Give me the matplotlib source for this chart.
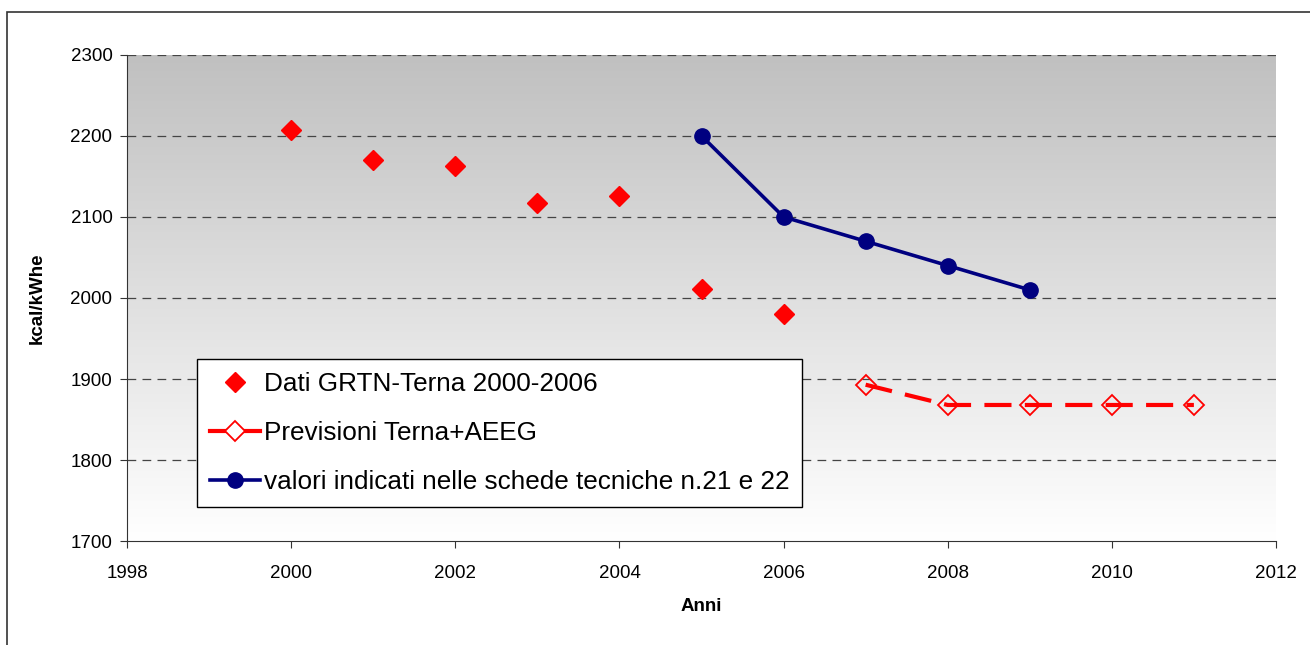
import numpy as np
import matplotlib.pyplot as plt
from matplotlib.patches import Rectangle

plt.rcParams['font.family'] = ['Liberation Sans', 'DejaVu Sans']

# data
anni_grtn = [2000, 2001, 2002, 2003, 2004, 2005, 2006]
dati_grtn = [2207, 2170, 2163, 2117, 2126, 2011, 1980]
anni_prev = [2007, 2008, 2009, 2010, 2011]
previsioni = [1893, 1868, 1868, 1868, 1868]
anni_schede = [2005, 2006, 2007, 2008, 2009]
valori_schede = [2200, 2100, 2070, 2040, 2010]

fig = plt.figure(figsize=(13.1, 6.45), dpi=100)
ax = fig.add_axes([0.097, 0.161, 0.877, 0.754])

# frame around the whole chart
fig.patches.append(Rectangle((7 / 1310, -0.1), 1.2, 1 - 12 / 645 + 0.1,
                             transform=fig.transFigure, fill=False,
                             edgecolor='#333333', lw=1.2))

# grey-to-white gradient in plot area
grad = np.linspace(0, 1, 256).reshape(-1, 1)
ax.imshow(grad, cmap=plt.cm.colors.LinearSegmentedColormap.from_list(
    'g', ['#c0c0c0', '#ffffff']), extent=[0, 1, 0, 1], transform=ax.transAxes,
    aspect='auto', zorder=0)

ax.set_xlim(1998, 2012)
ax.set_ylim(1700, 2300)
ax.set_xticks(np.arange(1998, 2013, 2))
ax.set_yticks(np.arange(1700, 2301, 100))

for y in range(1800, 2301, 100):
    ax.axhline(y, color='#444444', lw=0.9, ls=(0, (7, 5)), zorder=1)

ax.plot(anni_grtn, dati_grtn, ls='none', marker='D', ms=10, color='#ff0000',
        label='Dati GRTN-Terna 2000-2006', zorder=3)
ax.plot(anni_prev, previsioni, ls=(0, (6.5, 3.2)), lw=3, color='#ff0000',
        marker='D', ms=10, mfc='none', mec='#ff0000', mew=1.3,
        label='Previsioni Terna+AEEG', zorder=3)
ax.plot(anni_schede, valori_schede, lw=2.6, color='#000080', marker='o', ms=11,
        label='valori indicati nelle schede tecniche n.21 e 22', zorder=4)

for s in ['top', 'right']:
    ax.spines[s].set_visible(False)
for s in ['left', 'bottom']:
    ax.spines[s].set_color('#333333')

ax.tick_params(labelsize=13.5, length=5, color='#333333')
ax.tick_params(axis='x', pad=12)
ax.tick_params(axis='y', pad=5.5)
ax.set_xlabel('Anni', fontsize=13.5, fontweight='bold', labelpad=12)
ax.set_ylabel('kcal/kWhe', fontsize=13.5, fontweight='bold', labelpad=18)

h, l = ax.get_legend_handles_labels()
h[1] = plt.Line2D([], [], color='#ff0000', lw=3, marker='D', ms=10,
                  mfc='white', mec='#ff0000', mew=1.3)
leg = ax.legend(h, l, loc='lower left', bbox_to_anchor=(0.061, 0.07),
                borderaxespad=0, fontsize=18.8, frameon=True, fancybox=False,
                framealpha=1, edgecolor='black', labelspacing=0.95,
                handlelength=1.9, handletextpad=0.15, borderpad=0.5)
leg.get_frame().set_linewidth(1)

fig.savefig('out.png', dpi=100)
